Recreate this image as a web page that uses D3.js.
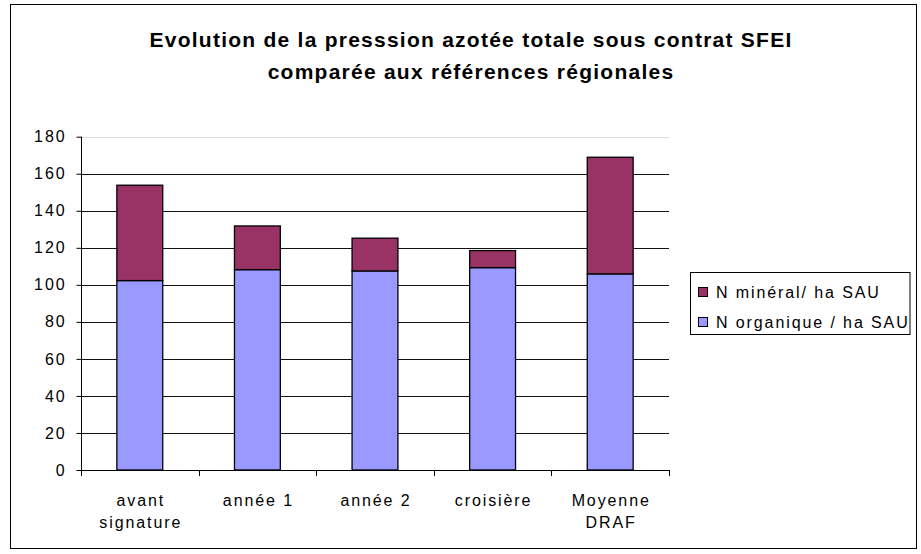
<!DOCTYPE html>
<html><head><meta charset="utf-8">
<script src="https://cdn.jsdelivr.net/npm/d3@7/dist/d3.min.js"></script>
<style>
html,body{margin:0;padding:0;background:#fff;}
svg{display:block;font-family:"Liberation Sans",Arial,sans-serif;}
</style></head>
<body>
<svg id="chart" width="921" height="554"></svg>
<script>
const categories = [["avant","signature"],["année 1"],["année 2"],["croisière"],["Moyenne","DRAF"]];
const categoryKeys = ["avant signature","année 1","année 2","croisière","Moyenne DRAF"];
const organique = [102.3, 108.2, 107.5, 109.3, 105.9];
const mineral = [51.5, 23.6, 17.7, 9.2, 63.0];
const seriesNames = ["N minéral/ ha SAU","N organique / ha SAU"];
const seriesColors = ["#993366","#9999FF"];
const yTicks = [0,20,40,60,80,100,120,140,160,180];
const titleLines = ["Evolution de la presssion azotée totale sous contrat SFEI","comparée aux références régionales"];

(function(){
const svg = d3.select("#chart");
const LS = "1.9px", FS = 16;
// outer frame
svg.append("rect").attr("x",10.5).attr("y",4.5).attr("width",906).attr("height",544)
  .attr("fill","#fff").attr("stroke","#000").attr("stroke-width",1);

// title
const title = svg.append("text").attr("text-anchor","middle").attr("font-weight","bold")
  .attr("font-size",21).attr("fill","#000").style("letter-spacing","1.25px");
titleLines.forEach((t,i)=>title.append("tspan").attr("x",471).attr("y",46.5+i*32.5).text(t));

const pL = 81, pR = 669, pT = 136.7, pB = 470;
const x = d3.scaleBand().domain(categoryKeys).range([pL,pR]).padding(0);
const y = d3.scaleLinear().domain([0,180]).range([pB,pT]);

// gridlines
svg.append("g").selectAll("line").data(yTicks.filter(d=>d>0)).join("line")
  .attr("x1",pL).attr("x2",pR)
  .attr("y1",d=>Math.round(y(d))+0.5).attr("y2",d=>Math.round(y(d))+0.5)
  .attr("stroke",d=>d===180?"#dcdcdc":"#111").attr("stroke-width",1);

// bars
const data = categoryKeys.map((k,i)=>({k, org: organique[i], min: mineral[i]}));
const barW = x.bandwidth()*0.39;
const g = svg.append("g");
g.selectAll("rect.org").data(data).join("rect").attr("class","org")
  .attr("x",d=>x(d.k)+(x.bandwidth()-barW)/2).attr("width",barW)
  .attr("y",d=>y(d.org)).attr("height",d=>y(0)-y(d.org))
  .attr("fill",seriesColors[1]).attr("stroke","#000").attr("stroke-width",1.3);
g.selectAll("rect.min").data(data).join("rect").attr("class","min")
  .attr("x",d=>x(d.k)+(x.bandwidth()-barW)/2).attr("width",barW)
  .attr("y",d=>y(d.org+d.min)).attr("height",d=>y(d.org)-y(d.org+d.min))
  .attr("fill",seriesColors[0]).attr("stroke","#000").attr("stroke-width",1.3);

// y axis
const yAxis = svg.append("g").attr("transform",`translate(${pL+0.5},0)`)
  .call(d3.axisLeft(y).tickValues(yTicks).tickSize(5).tickPadding(10).tickFormat(d3.format("d")));
yAxis.select(".domain").attr("stroke","#000").attr("d",`M0,${pT}V${pB}`);
yAxis.selectAll(".tick line").attr("stroke","#000");
yAxis.selectAll(".tick text").attr("font-size",FS).attr("fill","#000")
  .attr("font-family","\"Liberation Sans\",Arial,sans-serif").style("letter-spacing",LS);

// x axis
svg.append("line").attr("x1",pL).attr("x2",pR).attr("y1",pB+0.5).attr("y2",pB+0.5)
  .attr("stroke","#000");
const xTickPos = categoryKeys.map(k=>x(k)).concat([pR]);
svg.append("g").selectAll("line").data(xTickPos).join("line")
  .attr("x1",d=>Math.round(d)+0.5).attr("x2",d=>Math.round(d)+0.5)
  .attr("y1",pB).attr("y2",pB+6).attr("stroke","#000");
const xl = svg.append("g").selectAll("text").data(data).join("text")
  .attr("text-anchor","middle").attr("font-size",FS).attr("fill","#000")
  .style("letter-spacing",LS);
xl.each(function(d,i){
  const t = d3.select(this);
  categories[i].forEach((line,j)=>t.append("tspan")
    .attr("x",x(d.k)+x.bandwidth()/2+1).attr("y",506+j*22).text(line));
});

// legend
const lg = svg.append("g");
lg.append("rect").attr("x",690.5).attr("y",272.5).attr("width",219.5).attr("height",62)
  .attr("fill","#fff").attr("stroke","#000");
seriesNames.forEach((n,i)=>{
  const cy = 292 + i*30;
  lg.append("rect").attr("x",698.5).attr("y",cy-4.5).attr("width",9).attr("height",9)
    .attr("fill",seriesColors[i]).attr("stroke","#000");
  lg.append("text").attr("x",716).attr("y",cy+5.5).attr("font-size",FS).attr("fill","#000")
    .style("letter-spacing",LS).text(n);
});
})();
</script>
</body></html>
